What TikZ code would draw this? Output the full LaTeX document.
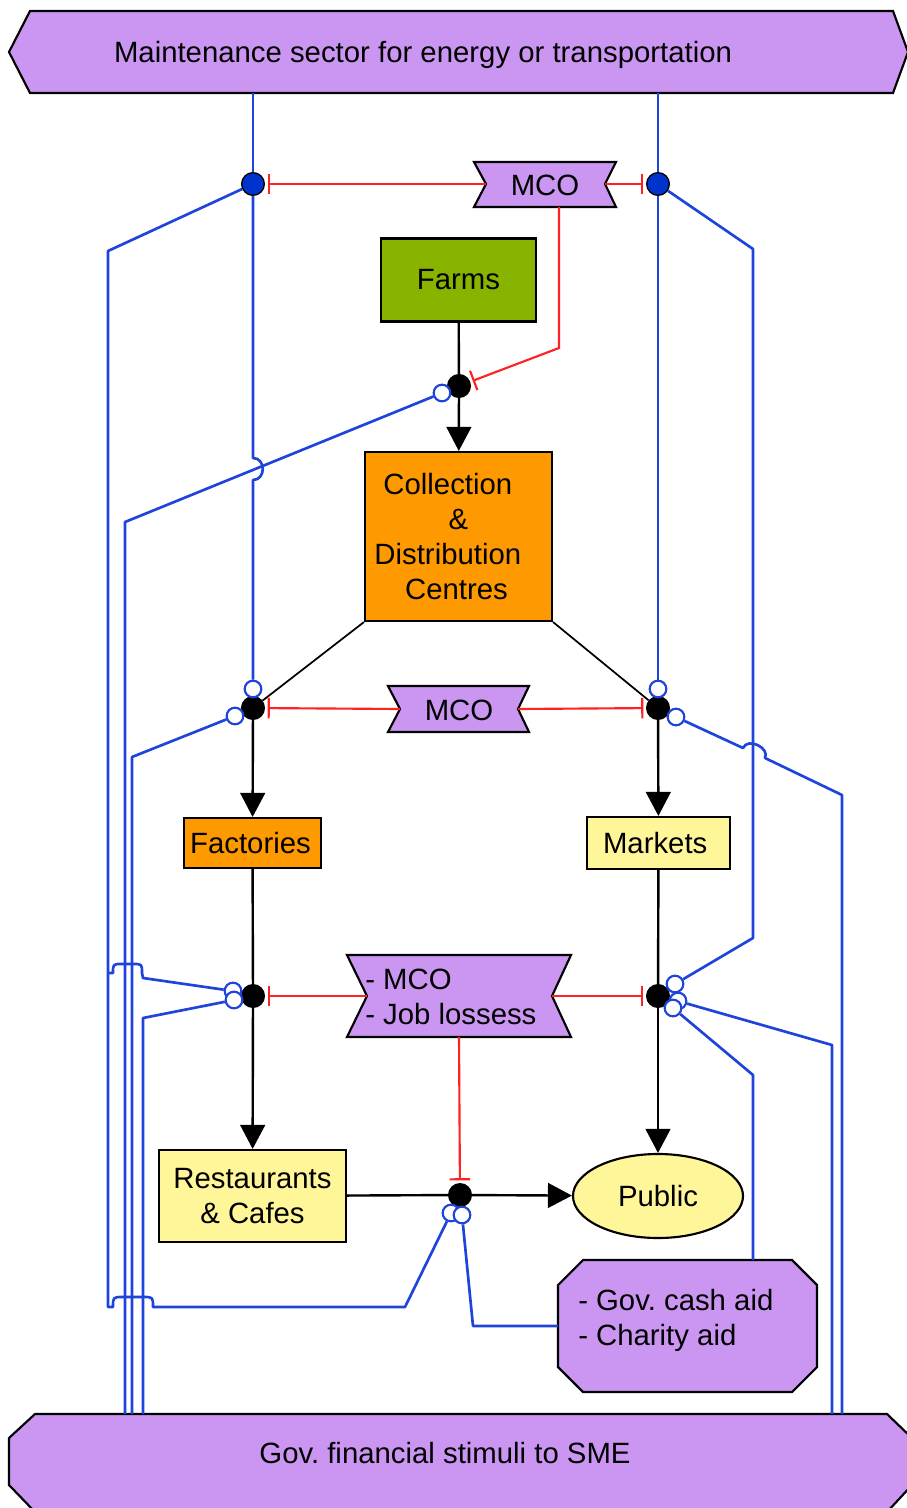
\documentclass[tikz,border=0pt]{standalone}
\usepackage{fontspec}
\setmainfont{Liberation Sans}
\usetikzlibrary{arrows.meta,shapes.geometric}
\definecolor{purp}{HTML}{CB96F2}
\definecolor{grn}{HTML}{88B400}
\definecolor{org}{HTML}{FF9900}
\definecolor{yel}{HTML}{FFF599}
\definecolor{bl}{HTML}{1E44DC}
\definecolor{bldot}{HTML}{0033CC}
\definecolor{rd}{HTML}{FF2222}
\frenchspacing
\begin{document}
\begin{tikzpicture}[x=0.75pt,y=-0.75pt,
  txt/.style={font=\fontsize{22}{26.25}\selectfont, inner sep=0pt},
  shapeline/.style={draw=black, line width=1.6pt, line join=miter},
  rbox/.style={txt, draw=black, line width=1.6pt, align=center},
  flow/.style={draw=black, line width=1.8pt},
  thinflow/.style={draw=black, line width=1.3pt},
  arr/.style={flow, -{Triangle[length=18pt,width=18.5pt]}},
  inh/.style={draw=rd, line width=1.6pt, -{Bar[width=15.5pt]}, shorten >=2pt},
  mod/.style={draw=bl, line width=2pt, line join=round},
  jdot/.style={circle, draw=black, fill=black, line width=1pt, minimum size=17pt, inner sep=0pt},
  bdot/.style={jdot, fill=bldot},
  ocirc/.style={circle, draw=bl, fill=white, line width=1.6pt, minimum size=12.5pt, inner sep=0pt}
]
\useasboundingbox (0,0) rectangle (906,1508);

% ---------- banners ----------
\draw[shapeline, fill=purp] (30,11) -- (893,11) -- (908,52) -- (893,93) -- (30,93) -- (9,52) -- cycle;
\node[txt, anchor=base] (ttop) at (423,63) {Maintenance sector for energy or transportation};
\draw[shapeline, fill=purp] (35,1414) -- (887,1414) -- (912,1438) -- (912,1485) -- (887,1512) -- (35,1512) -- (9,1485) -- (9,1438) -- cycle;
\node[txt, anchor=base] (tbot) at (445,1463) {Gov. financial stimuli to SME};

% ---------- MCO ribbons ----------
\draw[shapeline, fill=purp] (474,162) -- (616,162) -- (605,184) -- (616,207) -- (474,207) -- (486,184) -- cycle;
\node[txt, anchor=base] (mco1) at (545,196) {MCO};
\draw[shapeline, fill=purp] (388,686) -- (529,686) -- (518,709) -- (529,732) -- (388,732) -- (400,709) -- cycle;
\node[txt, anchor=base] (mco2) at (459,720) {MCO};
\draw[shapeline, fill=purp] (347,955) -- (571,955) -- (552,996) -- (571,1037) -- (347,1037) -- (367,996) -- cycle;
\node[txt, anchor=north west, align=left] (mco3) at (365,969) {- MCO\\- Job lossess};

% ---------- aid box ----------
\draw[shapeline, fill=purp] (583,1260) -- (792,1260) -- (817,1285) -- (817,1367) -- (792,1392) -- (583,1392) -- (558,1367) -- (558,1285) -- cycle;
\node[txt, anchor=north west, align=left] (aid) at (578,1289) {- Gov. cash aid\\- Charity aid};

% ---------- boxes ----------
\node[rbox, fill=grn, minimum width=116.25pt, minimum height=62.25pt] (farms) at (458.5,280) {Farms};
\node[rbox, fill=org, minimum width=140.25pt, minimum height=126.75pt] (coll) at (458.5,536.5)
  {Collection\rule{16pt}{0pt}\\\&\\Distribution\rule{16pt}{0pt}\\Centres\rule{3pt}{0pt}};
\node[rbox, fill=org, minimum width=102.75pt, minimum height=37.5pt] (fact) at (252.5,843) {Factories\rule{3pt}{0pt}};
\node[rbox, fill=yel, minimum width=107.25pt, minimum height=39pt] (mark) at (658.5,843) {Markets\rule{5pt}{0pt}};
\node[rbox, fill=yel, minimum width=140.25pt, minimum height=69pt] (rest) at (252.5,1196) {Restaurants\\\& Cafes};
\node[txt, draw=black, line width=1.6pt, fill=yel, ellipse, minimum width=127.5pt, minimum height=63pt] (pub) at (658,1196) {Public};

% ---------- named points on shapes ----------
\coordinate (tb1) at (253,93);
\coordinate (tb2) at (658,93);
\coordinate (bb125) at (125,1414);
\coordinate (bb132) at (132,1414);
\coordinate (bb143) at (143,1414);
\coordinate (bb832) at (832,1414);
\coordinate (bb842) at (842,1414);
\coordinate (gtop) at (753,1260);
\coordinate (gleft) at (558,1326);
\coordinate (m1L) at (486,184);
\coordinate (m1R) at (605,184);
\coordinate (m1B) at (559,207);
\coordinate (m2L) at (400,709);
\coordinate (m2R) at (518,709);
\coordinate (m3L) at (367,996);
\coordinate (m3R) at (552,996);
\coordinate (m3B) at (459,1037);

% ---------- junctions ----------
\node[bdot] (j1) at (253,184) {};
\node[bdot] (j2) at (658,184) {};
\node[jdot] (j3) at (459,386) {};
\node[jdot] (j4) at (253,708) {};
\node[jdot] (j5) at (658,708) {};
\node[jdot] (j6) at (253,996) {};
\node[jdot] (j7) at (658,996) {};
\node[jdot] (j8) at (460,1195) {};

% ---------- open circles ----------
\node[ocirc] (c3) at (442,393) {};
\node[ocirc] (c4t) at (253,689) {};
\node[ocirc] (c4l) at (235,716) {};
\node[ocirc] (c5t) at (658,689) {};
\node[ocirc] (c5r) at (676,717) {};
\node[ocirc] (c6a) at (233,991) {};
\node[ocirc] (c6b) at (234,1000) {};
\node[ocirc] (c7a) at (675,984) {};
\node[ocirc] (c7b) at (678,1001) {};
\node[ocirc] (c7c) at (673,1008) {};
\node[ocirc] (c8a) at (451,1213) {};
\node[ocirc] (c8b) at (462,1215) {};

% ---------- black flow ----------
\draw[flow] (farms) -- (j3);
\draw[arr] (j3) -- (coll);
\draw[thinflow] (coll.south west) -- (j4);
\draw[thinflow] (coll.south east) -- (j5);
\draw[arr] (j4) -- (fact);
\draw[arr] (j5) -- (mark);
\draw[flow] (fact) -- (j6);
\draw[flow] (mark) -- (j7);
\draw[arr] (j6) -- (rest);
\draw[arr] (j7) -- (pub);
\draw[flow] (rest) -- (j8);
\draw[arr] (j8) -- (pub);

% ---------- red inhibitions ----------
\draw[inh] (m1L) -- (j1);
\draw[inh] (m1R) -- (j2);
\draw[inh] (m1B) -- (559,348) -- (j3);
\draw[inh] (m2L) -- (j4);
\draw[inh] (m2R) -- (j5);
\draw[inh] (m3L) -- (j6);
\draw[inh] (m3R) -- (j7);
\draw[inh] (m3B) -- (j8);

% ---------- blue modulations ----------
\draw[mod] (tb1) -- (j1);
\draw[mod] (j1) -- (253,458) .. controls (266,458) and (266,480) .. (253,480) -- (c4t);
\draw[mod] (tb2) -- (j2);
\draw[mod] (j2) -- (c5t);
\coordinate (br1) at (108,973);
\draw[mod] (j1) -- (108,251) -- (108,1307) -- (113,1307) .. controls (113,1297) .. (123,1297) -- (143,1297) .. controls (153,1297) .. (153,1307) -- (405,1307) -- (c8a);
\draw[mod] (br1) -- (113,973) .. controls (113,964) .. (122,964) -- (133,964) .. controls (142,964) .. (142,973) -- (143,978) -- (c6a);
\draw[mod] (bb125) -- (125,522) -- (c3);
\draw[mod] (bb132) -- (132,757) -- (c4l);
\draw[mod] (bb143) -- (143,1018) -- (c6b);
\draw[mod] (bb842) -- (842,795) -- (765,758) .. controls (770,748) and (748,737) .. (743,748) -- (c5r);
\draw[mod] (j2) -- (753,249) -- (753,938) -- (c7a);
\draw[mod] (bb832) -- (832,1045) -- (c7b);
\draw[mod] (gtop) -- (753,1075) -- (c7c);
\draw[mod] (gleft) -- (473,1326) -- (c8b);
\end{tikzpicture}
\end{document}
